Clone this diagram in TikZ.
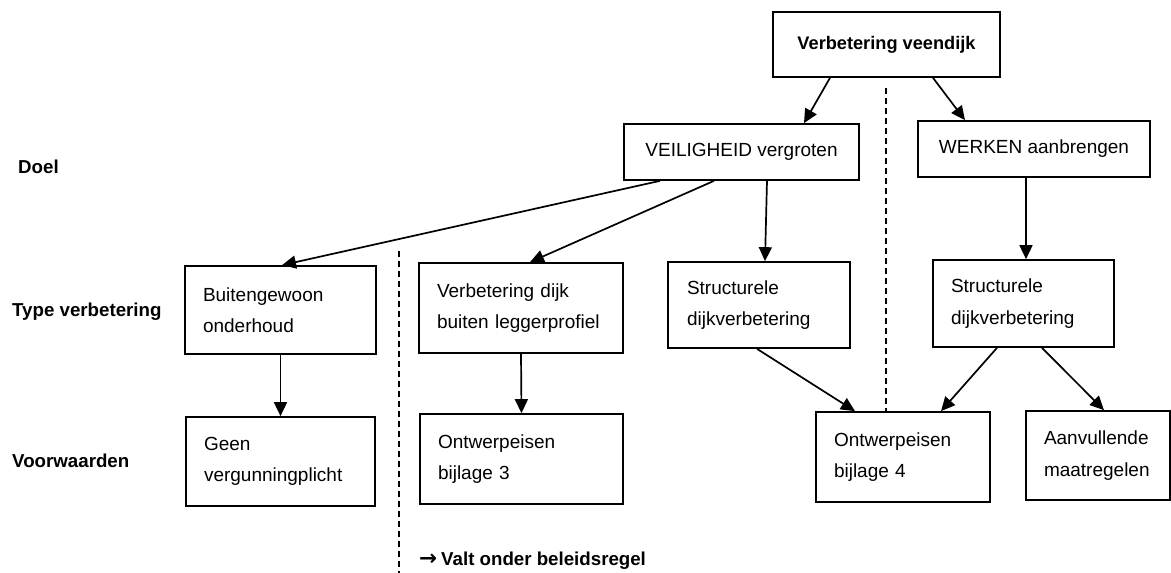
\documentclass[tikz,border=0pt]{standalone}
\usepackage{fontspec}
\setmainfont{Liberation Sans}
\newfontfamily\arrowfont{DejaVu Sans}
\usetikzlibrary{arrows.meta,calc}
\begin{document}
\begin{tikzpicture}[x=1pt,y=-1pt,
  box/.style={draw,line width=1.7pt,rectangle,inner ysep=0pt,font=\fontsize{19}{31.5}\selectfont},
  mbox/.style={box,align=left,inner xsep=18pt},
  sbox/.style={box,align=center,inner xsep=0pt},
  arr/.style={line width=1.7pt,-{Triangle[length=14pt,width=13pt]}},
  dsh/.style={line width=1.4pt,dash pattern=on 6pt off 4pt},
  lab/.style={font=\bfseries\fontsize{18.7}{22}\selectfont,inner sep=0pt}]
\useasboundingbox (0,0) rectangle (1171,573);
% boxes
\node[sbox,minimum width=227pt,minimum height=65pt,font=\bfseries\fontsize{18.2}{22}\selectfont] (top) at (886.5,44.5) {Verbetering veendijk};
\node[sbox,minimum width=235pt,minimum height=56pt] (veil) at (741.5,152) {VEILIGHEID vergroten};
\node[sbox,minimum width=232pt,minimum height=56pt] (werk) at (1034,149) {WERKEN aanbrengen};
\node[mbox,text width=155pt,minimum height=88pt] (buit) at (280.5,310) {Buitengewoon\\onderhoud};
\node[mbox,text width=168pt,minimum height=90pt] (verb) at (521,308) {Verbetering dijk\\buiten leggerprofiel};
\node[mbox,text width=144pt,minimum height=86pt,inner xsep=19pt] (strm) at (759,305) {Structurele\\dijkverbetering};
\node[mbox,text width=145pt,minimum height=87pt] (strr) at (1023.5,303.5) {Structurele\\dijkverbetering};
\node[mbox,text width=153pt,minimum height=89pt] (geen) at (280.5,461.5) {Geen\\vergunningplicht};
\node[mbox,text width=167pt,minimum height=90pt] (ont3) at (521.5,459) {Ontwerpeisen\\bijlage 3};
\node[mbox,text width=138pt,minimum height=90pt] (ont4) at (903,457) {Ontwerpeisen\\bijlage 4};
\node[mbox,text width=108pt,minimum height=89pt] (aanv) at (1098,455.5) {Aanvullende\\maatregelen};
% row labels
\node[lab,anchor=base west] (doel) at (18,173) {Doel};
\node[lab,anchor=base west] (type) at (12,316) {Type verbetering};
\node[lab,anchor=base west] (voorw) at (12,467) {Voorwaarden};
\node[lab,anchor=base west] (valt) at (419,565) {{\arrowfont\bfseries\fontsize{21.5}{22}\selectfont →}\hspace{4pt}Valt onder beleidsregel};
% dashed separators
\coordinate (dA) at (886,88);
\coordinate (dB) at (399,251);
\coordinate (dC) at (399,573);
\draw[dsh] (dA) -- (ont4.north -| dA);
\draw[dsh] (dB) -- (dC);
% arrows
\draw[arr] ($(top.south)+(-56.5,0)$) -- ($(veil.north)+(62.5,0)$);
\draw[arr] ($(top.south)+(46.5,0)$) -- ($(werk.north)+(-69,0)$);
\draw[arr] ($(veil.south)+(-81.5,0)$) -- ($(buit.north)+(1.5,0)$);
\draw[arr] ($(veil.south)+(-27.5,0)$) -- ($(verb.north)+(9,0)$);
\draw[arr] ($(veil.south)+(25.5,0)$) -- ($(strm.north)+(6,0)$);
\draw[arr] ($(werk.south)+(-8,0)$) -- ($(strr.north)+(2.5,0)$);
\draw[arr] (buit.south) -- (geen.north);
\draw[arr] (verb.south) -- (ont3.north);
\draw[arr] ($(strm.south)+(-2,0)$) -- ($(ont4.north)+(-48,0)$);
\draw[arr] ($(strr.south)+(-26.5,0)$) -- ($(ont4.north)+(38,0)$);
\draw[arr] ($(strr.south)+(18.5,0)$) -- ($(aanv.north)+(6,0)$);
\end{tikzpicture}
\end{document}
